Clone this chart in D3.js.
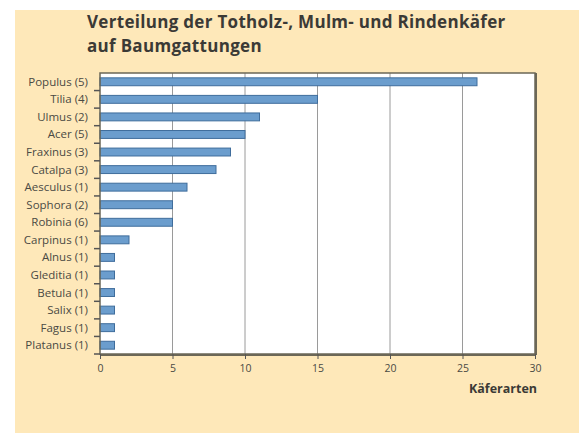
<!DOCTYPE html>
<html>
<head>
<meta charset="utf-8">
<script src="https://cdn.jsdelivr.net/npm/d3@7"></script>
<style>
  body { margin: 0; background: #fff; }
  text { font-family: "Open Sans", "DejaVu Sans", sans-serif; }
</style>
</head>
<body>
<div class="chart"></div>
<script>
var categories = ["Populus (5)", "Tilia (4)", "Ulmus (2)", "Acer (5)", "Fraxinus (3)", "Catalpa (3)",
    "Aesculus (1)", "Sophora (2)", "Robinia (6)", "Carpinus (1)", "Alnus (1)", "Gleditia (1)",
    "Betula (1)", "Salix (1)", "Fagus (1)", "Platanus (1)"];
var values = [26, 15, 11, 10, 9, 8, 6, 5, 5, 2, 1, 1, 1, 1, 1, 1];
var xTicks = [0, 5, 10, 15, 20, 25, 30];
var titleLines = ["Verteilung der Totholz-, Mulm- und Rindenkäfer", "auf Baumgattungen"];
var xTitle = "Käferarten";

function init() {
    var w = 579;
    var h = 433;
    var left = 100, right = 535, top = 73, bottom = 354;

    var dataset = categories.map(function (c, i) { return { name: c, value: values[i] }; });

    var svg = d3.select(".chart")
        .append("svg")
        .attr("width", w)
        .attr("height", h);

    svg.append("rect")
        .attr("x", 15)
        .attr("y", 10)
        .attr("width", w - 15)
        .attr("height", h - 10)
        .style("fill", "#fee8b9");

    svg.selectAll(".title")
        .data(titleLines)
        .enter()
        .append("text")
        .attr("class", "title")
        .attr("x", 87)
        .attr("y", function (d, i) { return 28 + i * 24; })
        .style("font-size", "17px")
        .style("letter-spacing", "0.3px")
        .style("font-weight", "bold")
        .style("fill", "#3b3a36")
        .text(function (d) { return d; });

    var xScale = d3.scaleLinear()
        .domain([0, 30])
        .range([left, right]);

    var yScale = d3.scaleBand()
        .domain(categories)
        .range([top, bottom])
        .paddingInner(0.55)
        .paddingOuter(0.275);

    // plot background
    svg.append("rect")
        .attr("x", left)
        .attr("y", top)
        .attr("width", right - left)
        .attr("height", bottom - top)
        .style("fill", "#ffffff");

    // grid
    svg.selectAll(".grid")
        .data(xTicks.slice(1, -1))
        .enter()
        .append("line")
        .attr("class", "grid")
        .attr("x1", function (d) { return xScale(d); })
        .attr("x2", function (d) { return xScale(d); })
        .attr("y1", top)
        .attr("y2", bottom)
        .style("stroke", "#9a9a9a")
        .style("stroke-width", 1);

    svg.selectAll(".bar")
        .data(dataset)
        .enter()
        .append("rect")
        .attr("class", "bar")
        .attr("x", xScale(0))
        .attr("y", function (d) { return yScale(d.name); })
        .attr("width", function (d) { return xScale(d.value) - xScale(0); })
        .attr("height", yScale.bandwidth())
        .style("fill", "#6b9dcd")
        .style("stroke", "#3f6d9c")
        .style("stroke-width", 1);

    // frame
    svg.append("rect")
        .attr("x", left)
        .attr("y", top)
        .attr("width", right - left)
        .attr("height", bottom - top)
        .style("fill", "none")
        .style("stroke", "#6b6757")
        .style("stroke-width", 1.5);

    svg.append("line")
        .attr("x1", left)
        .attr("x2", right + 1)
        .attr("y1", bottom + 1)
        .attr("y2", bottom + 1)
        .style("stroke", "#6b6757")
        .style("stroke-width", 2);

    svg.append("line")
        .attr("x1", right + 1)
        .attr("x2", right + 1)
        .attr("y1", top)
        .attr("y2", bottom + 1)
        .style("stroke", "#6b6757")
        .style("stroke-width", 2);

    var xAxis = d3.axisBottom(xScale)
        .tickValues(xTicks)
        .tickSize(5)
        .tickPadding(6);

    var gx = svg.append("g")
        .attr("class", "axis")
        .attr("transform", "translate(0," + bottom + ")")
        .call(xAxis);
    gx.select(".domain").remove();
    gx.selectAll("line").style("stroke", "#555");
    gx.selectAll("text")
        .style("font-size", "10.5px")
        .style("fill", "#4a4a44")
        .style("font-family", "\"Open Sans\", sans-serif");

    // y labels
    svg.selectAll(".ylabel")
        .data(categories)
        .enter()
        .append("text")
        .attr("class", "ylabel")
        .attr("x", left - 12)
        .attr("y", function (d) { return yScale(d) + yScale.bandwidth() / 2; })
        .attr("dy", "0.35em")
        .attr("text-anchor", "end")
        .style("font-size", "11.5px")
        .style("fill", "#4a4a44")
        .text(function (d) { return d; });

    // y ticks at band boundaries
    var step = yScale.step();
    svg.selectAll(".ytick")
        .data(categories)
        .enter()
        .append("line")
        .attr("class", "ytick")
        .attr("x1", left - 6)
        .attr("x2", left)
        .attr("y1", function (d) { return yScale(d) - yScale.paddingOuter() * step + step; })
        .attr("y2", function (d) { return yScale(d) - yScale.paddingOuter() * step + step; })
        .style("stroke", "#555")
        .style("stroke-width", 1.5);

    svg.append("text")
        .attr("x", right + 2)
        .attr("y", 393)
        .attr("text-anchor", "end")
        .style("font-size", "12.5px")
        .style("font-weight", "bold")
        .style("fill", "#3b3a36")
        .text(xTitle);
}

init();
</script>
</body>
</html>
